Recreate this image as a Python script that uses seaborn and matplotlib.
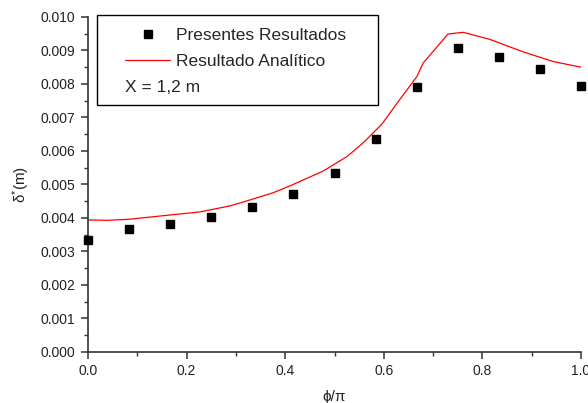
import numpy as np
import pandas as pd
import seaborn as sns
import matplotlib.pyplot as plt
from matplotlib.lines import Line2D
from matplotlib.patches import Rectangle
from matplotlib.ticker import MultipleLocator

# Presentes Resultados (pontos)
phi_pts = [0.0, 1/12, 2/12, 3/12, 4/12, 5/12, 6/12, 7/12, 8/12, 9/12, 10/12, 11/12, 1.0]
delta_pts = [0.00333, 0.00367, 0.00383, 0.00404, 0.00432, 0.00472, 0.00534, 0.00635, 0.00790,
             0.00908, 0.00881, 0.00845, 0.00795]

# Resultado Analítico (curva)
phi_an = [0.0, 0.04, 0.083, 0.167, 0.227, 0.288, 0.329, 0.375, 0.41, 0.477, 0.525, 0.558,
          0.596, 0.627, 0.667, 0.68, 0.714, 0.73, 0.761, 0.815, 0.882, 0.943, 1.0]
delta_an = [0.00394, 0.00393, 0.00396, 0.00409, 0.00418, 0.00436, 0.00454, 0.00475, 0.00496,
            0.00540, 0.00583, 0.00624, 0.00680, 0.00743, 0.00822, 0.00863, 0.00921, 0.00949,
            0.00954, 0.00933, 0.00896, 0.00867, 0.00850]

df_pts = pd.DataFrame({"phi": phi_pts, "delta": delta_pts})
df_an = pd.DataFrame({"phi": phi_an, "delta": delta_an})

sns.set_style("ticks")
plt.rcParams["font.family"] = ["Liberation Sans", "DejaVu Sans"]
plt.rcParams["mathtext.fontset"] = "custom"
plt.rcParams["mathtext.rm"] = "Liberation Sans"
plt.rcParams["mathtext.it"] = "Liberation Sans"

fig = plt.figure(figsize=(5.88, 4.03), dpi=100)
ax = fig.add_axes([0.1497, 0.1266, 0.8385, 0.8314])

sns.lineplot(data=df_an, x="phi", y="delta", ax=ax, color="#ff0000", lw=0.9,
             sort=False, estimator=None)
ax.plot(df_pts["phi"], df_pts["delta"], ls="none", marker="s", ms=5.4,
        color="black", clip_on=False, zorder=5)

ax.set_xlim(0, 1.0)
ax.set_ylim(0, 0.010)
ax.xaxis.set_major_locator(MultipleLocator(0.2))
ax.xaxis.set_minor_locator(MultipleLocator(0.1))
ax.yaxis.set_major_locator(MultipleLocator(0.001))
ax.yaxis.set_minor_locator(MultipleLocator(0.0005))
ax.xaxis.set_major_formatter(plt.FuncFormatter(lambda v, p: f"{v:.1f}"))
ax.yaxis.set_major_formatter(plt.FuncFormatter(lambda v, p: f"{v:.3f}"))

for s in ["top", "right"]:
    ax.spines[s].set_visible(False)
for s in ["left", "bottom"]:
    ax.spines[s].set_linewidth(1.2)
    ax.spines[s].set_color("#333333")
ax.tick_params(which="major", direction="out", length=5, width=1.1, colors="#333333",
               labelsize=10, labelcolor="#222222", pad=4)
ax.tick_params(which="minor", direction="out", length=3, width=1.0, colors="#333333")

ax.set_xlabel("ϕ/π", fontsize=11, labelpad=8, color="#222222")
ax.set_ylabel(r"δ$^{*}$(m)", fontsize=11, labelpad=6, color="#222222")

# legend box
fig.patches.append(Rectangle((97 / 588, 1 - 105 / 403), 281 / 588, 90 / 403,
                             transform=fig.transFigure, fill=True, facecolor="white",
                             edgecolor="black", lw=1.0, zorder=10))

handles = [
    Line2D([], [], ls="none", marker="s", ms=5.4, color="black"),
    Line2D([], [], color="#ff0000", lw=0.9),
]
labels = ["Presentes Resultados", "Resultado Analítico"]
leg = fig.legend(handles, labels, loc="upper left", bbox_to_anchor=(125 / 588, 1 - 28 / 403),
                 bbox_transform=fig.transFigure, frameon=False, borderpad=0,
                 borderaxespad=0, fontsize=12.5, handlelength=2.6, handletextpad=0.35,
                 labelspacing=0.62)
leg.set_zorder(11)
fig.text(125 / 588, 1 - 88 / 403, "X = 1,2 m", fontsize=12.5, va="center", ha="left",
         zorder=11)

fig.savefig("out.png", dpi=100)
